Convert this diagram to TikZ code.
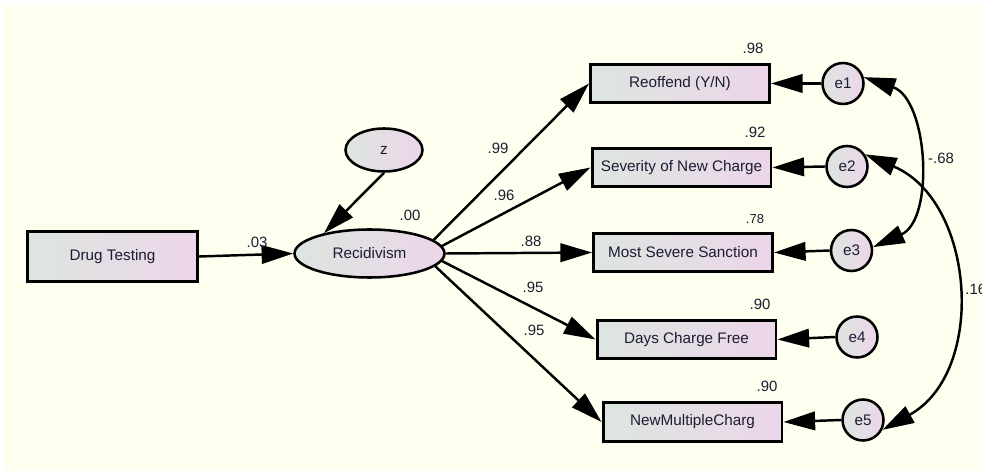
\documentclass[tikz,border=0pt]{standalone}
\usepackage{fontspec}
\setmainfont{Liberation Sans}
\usetikzlibrary{arrows.meta,shapes.geometric}
\definecolor{paper}{RGB}{254,255,238}
\definecolor{shadeL}{RGB}{221,229,224}
\definecolor{shadeR}{RGB}{236,214,233}
\definecolor{ink}{RGB}{28,28,52}

\begin{document}
\begin{tikzpicture}[x=0.02cm,y=0.02cm,
  boxbase/.style={rectangle,draw=black,line width=1.7pt,left color=shadeL,right color=shadeR,
    inner sep=0pt,text=ink,font=\fontsize{8.7}{10}\selectfont},
  obs/.style={boxbase,minimum width=3.58cm,minimum height=0.77cm},
  exo/.style={boxbase,minimum width=3.40cm,minimum height=1.00cm},
  latent/.style={ellipse,draw=black,line width=1.45pt,left color=shadeL,right color=shadeR,
    inner sep=0pt,text=ink,font=\fontsize{8.7}{10}\selectfont},
  err/.style={circle,draw=black,line width=1.45pt,left color=shadeL,right color=shadeR,
    inner sep=0pt,minimum size=0.82cm,text=ink,font=\fontsize{8.7}{10}\selectfont},
  lbl/.style={inner sep=0pt,text=ink,font=\fontsize{8.5}{10}\selectfont},
  arr/.style={line width=1.4pt,-{Triangle[length=18pt,width=10.5pt]}},
  cov/.style={line width=1.4pt,{Triangle[length=18pt,width=10.5pt]}-{Triangle[length=18pt,width=10.5pt]}}]

% page and paper
\useasboundingbox (0,0) rectangle (982,-472);
\clip (0,0) rectangle (982,-472);
\fill[white] (0,0) rectangle (982,-472);
\fill[paper] (4,-5) rectangle (982,-471);

% predictor, latent variable and its disturbance
\node[exo] (dt) at (112.5,-256.5) {Drug Testing};
\node[latent,minimum width=3.0cm,minimum height=0.96cm] (rec) at (369.5,-253.5) {Recidivism};
\node[latent,minimum width=1.54cm,minimum height=0.86cm] (z) at (384,-150) {z};

% indicators
\node[obs] (y1) at (680,-83.5)  {Reoffend (Y/N)};
\node[obs] (y2) at (681.5,-167.5) {Severity of New Charge};
\node[obs] (y3) at (683,-252.5) {Most Severe Sanction};
\node[obs] (y4) at (686.5,-339.5) {Days Charge Free};
\node[obs] (y5) at (692.5,-422) {NewMultipleCharg};

% residuals
\node[err] (e1) at (843,-83.5)  {e1};
\node[err] (e2) at (847,-166.5) {e2};
\node[err] (e3) at (851.5,-250.5) {e3};
\node[err] (e4) at (857,-337) {e4};
\node[err] (e5) at (863,-420) {e5};

% structural paths
\draw[arr] (dt.east) -- (rec.west);
\draw[arr] (z.south) -- (rec.156);

% loadings
\draw[arr] (rec.12) -- (y1.west);
\draw[arr] (rec.6) -- (y2.west);
\draw[arr] (rec.east) -- (y3.west);
\draw[arr] (rec.-6) -- (y4.west);
\draw[arr] (rec.-11) -- (y5.west);

% residual paths
\draw[arr] (e1.west) -- (y1.east);
\draw[arr] (e2.west) -- (y2.east);
\draw[arr] (e3.west) -- (y3.east);
\draw[arr] (e4.west) -- (y4.east);
\draw[arr] (e5.west) -- (y5.east);

% residual covariances
\draw[cov] (e1.17) to[out=-19,in=24,looseness=1.02] (e3.9);
\draw[cov] (e2.34) to[out=-23,in=29,looseness=1.11] (e5.-27);

% estimates
\node[lbl] (b03) at (257,-242) {.03};
\node[lbl] (r00) at (410,-215) {.00};
\node[lbl] (l1) at (498,-148) {.99};
\node[lbl] (l2) at (504,-195) {.96};
\node[lbl] (l3) at (531,-241) {.88};
\node[lbl] (l4) at (533,-287) {.95};
\node[lbl] (l5) at (534,-330) {.95};
\node[lbl] (r1) at (753,-48) {.98};
\node[lbl] (r2) at (755,-132) {.92};
\node[lbl,font=\fontsize{7.4}{9}\selectfont] (r3) at (755,-219.5) {.78};
\node[lbl] (r4) at (760,-304) {.90};
\node[lbl] (r5) at (767,-386.5) {.90};
\node[lbl] (c13) at (941,-158) {-.68};
\node[lbl,anchor=west] (c25) at (965,-289) {.16};
\end{tikzpicture}
\end{document}
